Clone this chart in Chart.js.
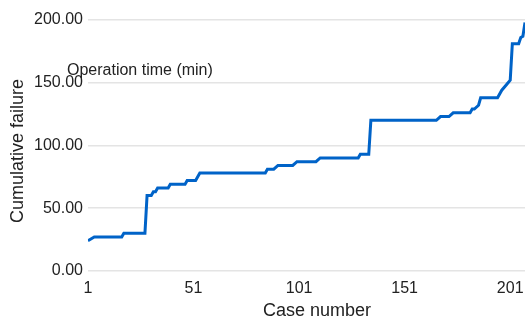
<!DOCTYPE html>
<html>
<head>
<meta charset="utf-8">
<script src="https://cdn.jsdelivr.net/npm/chart.js@4"></script>
<style>
  html, body { margin: 0; padding: 0; background: #fff; }
  #wrap { width: 525px; height: 321px; }
</style>
</head>
<body>
<div id="wrap"><canvas id="chart"></canvas></div>
<script>
// corners of the cumulative curve
const caseNumbers = [1, 4, 17, 18, 28, 29, 31, 32, 33, 34, 39, 40, 47, 48, 52, 54, 85, 86, 89, 91, 98, 100, 109, 111, 129, 130, 134, 135, 166, 168, 172, 174, 182, 183, 184, 186, 187, 195, 197, 199, 201, 202, 205, 206, 207, 208];
const failures = [24, 27, 27, 30, 30, 60, 60, 63, 63, 66, 66, 69, 69, 72, 72, 78, 78, 81, 81, 84, 84, 87, 87, 90, 90, 93, 93, 120, 120, 123, 123, 126, 126, 129, 129, 132, 138, 138, 144, 148, 152, 181, 181, 186, 187, 198];
const xTicks = [1, 51, 101, 151, 201];
const yTicks = [0, 50, 100, 150, 200];

const FONT = "'Liberation Sans', Arial, Helvetica, sans-serif";
const ctx = document.getElementById("chart").getContext("2d");

// axis titles and the stray label sit a bit off-centre in the original, so draw them here
const texts = {
  id: "texts",
  afterDraw: (chart) => {
    const c = chart.ctx;
    c.save();
    c.fillStyle = "#222";
    c.textBaseline = "middle";
    c.font = "16px " + FONT;
    c.fillText("Operation time (min)", 67, 71);
    c.font = "18px " + FONT;
    c.textAlign = "center";
    c.fillText("Case number", 317, 311);
    c.translate(18, 151);
    c.rotate(-Math.PI / 2);
    c.fillText("Cumulative failure", 0, 0);
    c.restore();
  }
};

const plot = new Chart(ctx, {
  type: "line",
  data: {
    datasets: [
      {
        label: "Cumulative failure",
        data: caseNumbers.map((x, i) => ({ x: x, y: failures[i] })),
        borderColor: "#0063c8",
        borderWidth: 3,
        pointRadius: 0,
        tension: 0,
        fill: false
      }
    ]
  },
  options: {
    responsive: true,
    maintainAspectRatio: false,
    animation: false,
    layout: { padding: { top: 20, right: 0, left: 29, bottom: 15 } },
    plugins: { legend: { display: false }, tooltip: { enabled: false } },
    scales: {
      x: {
        type: "linear",
        min: 1,
        max: 208,
        afterBuildTicks: (axis) => { axis.ticks = xTicks.map(v => ({ value: v })); },
        afterFit: (axis) => { axis.paddingRight = 0; axis.paddingLeft = 0; },
        grid: { display: false, drawTicks: false },
        border: { display: false },
        ticks: { color: "#222", font: { size: 16, family: FONT }, padding: 8, maxRotation: 0 }
      },
      y: {
        type: "linear",
        min: 0,
        max: 200,
        afterBuildTicks: (axis) => { axis.ticks = yTicks.map(v => ({ value: v })); },
        grid: { color: "#e4e4e4", lineWidth: 1.5, drawTicks: false },
        border: { display: false },
        ticks: { color: "#222", font: { size: 16, family: FONT }, padding: 5, callback: (v) => Number(v).toFixed(2) }
      }
    }
  },
  plugins: [texts]
});
</script>
</body>
</html>
